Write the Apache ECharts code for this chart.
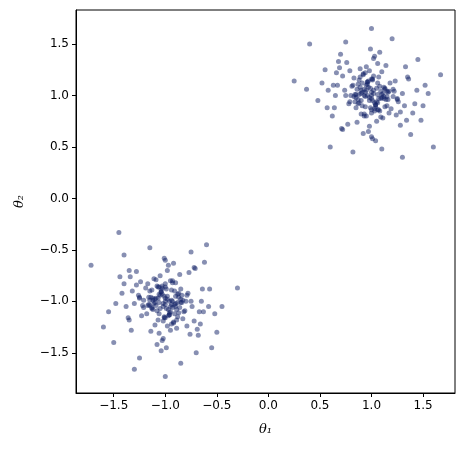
<!DOCTYPE html>
<html><head><meta charset="utf-8">
<script src="https://cdn.jsdelivr.net/npm/echarts@6/dist/echarts.min.js"></script>
<style>html,body{margin:0;padding:0;background:#fff}#c{width:465px;height:451px}</style>
</head><body><div id="c"></div>
<script>
const xTicks=[-1.5,-1.0,-0.5,0.0,0.5,1.0,1.5];
const yTicks=[-1.5,-1.0,-0.5,0.0,0.5,1.0,1.5];
// upper-right cluster
const clusterA_x=[0.25,0.37,0.40,1.67,1.60,1.50,1.00,0.60,1.30,0.55,0.62,0.70,0.48,1.45,1.52,1.38,1.20,0.82,0.75,1.10,
1.02,0.98,0.95,1.05,0.90,1.12,0.88,1.15,0.85,1.18,0.80,1.22,0.78,1.25,0.92,1.08,0.97,1.03,0.93,1.07,
1.00,0.99,1.01,0.96,1.04,0.94,1.06,0.91,1.09,0.89,1.11,0.87,1.13,0.86,1.14,0.84,1.16,0.83,1.17,0.81,
1.19,0.79,1.21,0.77,1.23,0.76,1.24,0.74,1.26,0.72,1.28,0.71,1.30,0.69,1.32,0.67,1.34,0.65,1.36,0.64,
1.00,0.95,1.05,0.90,1.10,1.02,0.98,0.93,1.07,0.88,1.12,0.97,1.03,0.85,1.15,1.00,0.94,1.06,0.91,1.09,
0.58,0.66,1.42,1.35,0.72,1.28,0.68,1.40,0.63,1.33,1.55,0.52,1.48,0.57,1.44,0.99,1.01,1.08,0.92,1.04,
1.00,0.96,1.02,0.98,1.06,0.94,1.10,0.90,0.87,1.13,1.17,0.83,0.79,1.21,1.25,0.75,0.96,1.04,1.00,1.00,
0.86,0.91,0.97,1.03,1.08,1.14,0.89,0.94,1.00,1.06,1.11,0.84,0.92,0.99,1.05,1.12,0.88,0.95,1.01,1.09,
0.82,0.87,0.93,1.02,1.07,1.16,0.90,0.96,1.04,1.13,0.85,0.98,1.10,0.93,1.01,1.06,0.89,1.15,0.95,1.03];
const clusterA_y=[1.14,1.06,1.50,1.20,0.50,0.90,1.65,0.50,0.40,1.25,0.80,1.40,0.95,1.35,1.10,0.62,1.55,0.45,1.52,0.48,
1.02,0.98,1.10,0.94,1.05,0.99,1.15,0.90,0.88,1.12,1.00,1.04,0.92,0.96,1.20,0.85,1.08,0.93,0.80,1.18,
1.00,1.07,0.95,1.13,0.91,1.22,0.86,1.03,0.97,1.26,0.78,1.11,0.89,0.74,1.29,1.01,0.96,1.17,0.83,1.09,
0.87,1.24,0.99,0.72,1.14,1.32,0.81,1.05,0.94,1.19,0.84,0.68,1.02,1.27,0.90,1.10,0.76,1.00,1.16,0.88,
1.03,1.28,0.75,0.82,1.23,1.36,0.70,1.06,0.97,0.93,1.08,0.65,1.38,1.01,1.04,0.60,0.89,1.31,1.12,0.79,
1.05,1.22,0.92,1.18,0.67,0.71,1.33,0.83,1.10,1.28,1.02,1.12,0.76,0.88,1.05,1.45,0.58,1.42,0.63,0.56,
0.97,1.00,1.05,0.95,1.01,1.03,0.98,1.02,0.96,1.07,1.04,0.99,0.94,1.06,0.97,1.00,1.11,0.91,1.16,0.86,
1.06,0.90,1.14,0.85,1.09,0.96,1.18,0.99,0.83,1.12,1.02,0.94,1.21,0.88,1.07,0.97,1.01,0.80,1.16,1.04,
1.10,0.92,1.00,1.19,0.86,1.03,0.95,1.13,0.89,1.06,0.98,1.24,1.01,0.82,1.15,0.93,1.08,0.99,1.05,0.87];
// lower-left cluster
const clusterB_x=[-1.72,-1.45,-0.30,-1.00,-1.30,-0.60,-1.60,-0.45,-1.55,-0.50,-1.40,-0.62,-1.50,-0.55,-1.35,-0.70,-1.25,-0.75,-0.85,-1.15,
-1.02,-0.98,-0.95,-1.05,-0.90,-1.12,-0.88,-1.15,-0.85,-1.18,-0.80,-1.22,-0.78,-1.25,-0.92,-1.08,-0.97,-1.03,-0.93,-1.07,
-1.00,-0.99,-1.01,-0.96,-1.04,-0.94,-1.06,-0.91,-1.09,-0.89,-1.11,-0.87,-1.13,-0.86,-1.14,-0.84,-1.16,-0.83,-1.17,-0.81,
-1.19,-0.79,-1.21,-0.77,-1.23,-0.76,-1.24,-0.74,-1.26,-0.72,-1.28,-0.71,-1.30,-0.69,-1.32,-0.67,-1.34,-0.65,-1.36,-0.64,
-1.00,-0.95,-1.05,-0.90,-1.10,-1.02,-0.98,-0.93,-1.07,-0.88,-1.12,-0.97,-1.03,-0.85,-1.15,-1.00,-0.94,-1.06,-0.91,-1.09,
-0.58,-0.66,-1.42,-1.35,-0.72,-1.28,-0.68,-1.40,-0.63,-1.33,-1.48,-0.52,-1.44,-0.57,-1.38,-0.99,-1.01,-1.08,-0.92,-1.04,
-1.00,-0.96,-1.02,-0.98,-1.06,-0.94,-1.10,-0.90,-0.87,-1.13,-1.17,-0.83,-0.79,-1.21,-1.25,-0.75,-0.96,-1.04,-1.00,-1.00,
-0.86,-0.91,-0.97,-1.03,-1.08,-1.14,-0.89,-0.94,-1.00,-1.06,-1.11,-0.84,-0.92,-0.99,-1.05,-1.12,-0.88,-0.95,-1.01,-1.09,
-0.82,-0.87,-0.93,-1.02,-1.07,-1.16,-0.90,-0.96,-1.04,-1.13,-0.85,-0.98,-1.10,-0.93,-1.01,-1.06,-0.89,-1.15,-0.95,-1.03];
const clusterB_y=[-0.65,-0.33,-0.87,-1.73,-1.66,-0.45,-1.25,-1.05,-1.10,-1.30,-0.55,-0.62,-1.40,-1.45,-0.70,-1.50,-1.55,-0.52,-1.60,-0.48,
-1.02,-0.98,-1.10,-0.94,-1.05,-0.99,-1.15,-0.90,-0.88,-1.12,-1.00,-1.04,-0.92,-0.96,-1.20,-0.85,-1.08,-0.93,-0.80,-1.18,
-1.00,-1.07,-0.95,-1.13,-0.91,-1.22,-0.86,-1.03,-0.97,-1.26,-0.78,-1.11,-0.89,-0.74,-1.29,-1.01,-0.96,-1.17,-0.83,-1.09,
-0.87,-1.24,-0.99,-0.72,-1.14,-1.32,-0.81,-1.05,-0.94,-1.19,-0.84,-0.68,-1.02,-1.27,-0.90,-1.10,-0.76,-1.00,-1.16,-0.88,
-1.03,-1.28,-0.75,-0.82,-1.23,-1.36,-0.70,-1.06,-0.97,-0.93,-1.08,-0.65,-1.38,-1.01,-1.04,-0.60,-0.89,-1.31,-1.12,-0.79,
-1.05,-1.22,-0.92,-1.18,-0.67,-0.71,-1.33,-0.83,-1.10,-1.28,-1.02,-1.12,-0.76,-0.88,-1.05,-1.45,-0.58,-1.42,-0.63,-1.48,
-0.97,-1.00,-1.05,-0.95,-1.01,-1.03,-0.98,-1.02,-0.96,-1.07,-1.04,-0.99,-0.94,-1.06,-0.97,-1.00,-1.11,-0.91,-1.16,-0.86,
-1.06,-0.90,-1.14,-0.85,-1.09,-0.96,-1.18,-0.99,-0.83,-1.12,-1.02,-0.94,-1.21,-0.88,-1.07,-0.97,-1.01,-0.80,-1.16,-1.04,
-1.10,-0.92,-1.00,-1.19,-0.86,-1.03,-0.95,-1.13,-0.89,-1.06,-0.98,-1.24,-1.01,-0.82,-1.15,-0.93,-1.08,-0.99,-1.05,-0.87];
const pts=(xs,ys)=>xs.map((x,i)=>[x,ys[i]]);
const fmt=v=>(v<0?'−':'')+Math.abs(v).toFixed(1);
const chart=echarts.init(document.getElementById('c'),null,{renderer:'canvas'});
const lbl={color:'#000',fontSize:12,fontFamily:'DejaVu Sans'};
const axisCommon={axisLine:{onZero:false,lineStyle:{color:'#000',width:1}},splitLine:{show:false},
 nameTextStyle:{color:'#000',fontSize:13,fontFamily:'DejaVu Serif',fontStyle:'italic'}};
chart.setOption({
 animation:false,
 grid:{left:76,right:10,top:10,bottom:58,show:true,borderColor:'#000',borderWidth:1},
 xAxis:Object.assign({type:'value',min:-1.866,max:1.81,name:'θ₁',nameLocation:'middle',nameGap:30,
  axisTick:{show:true,length:4,lineStyle:{color:'#000'},customValues:xTicks},
  axisLabel:Object.assign({},lbl,{customValues:xTicks,formatter:fmt,margin:7})},axisCommon),
 yAxis:Object.assign({type:'value',min:-1.89,max:1.83,name:'θ₂',nameLocation:'middle',nameGap:50,nameRotate:90,
  axisTick:{show:true,length:4,lineStyle:{color:'#000'},customValues:yTicks},
  axisLabel:Object.assign({},lbl,{customValues:yTicks,formatter:fmt,margin:7})},axisCommon),
 series:[
  {type:'scatter',data:pts(clusterA_x,clusterA_y),symbolSize:5,itemStyle:{color:'#0f1f66',opacity:0.5}},
  {type:'scatter',data:pts(clusterB_x,clusterB_y),symbolSize:5,itemStyle:{color:'#0f1f66',opacity:0.5}}
 ]
});
</script></body></html>
